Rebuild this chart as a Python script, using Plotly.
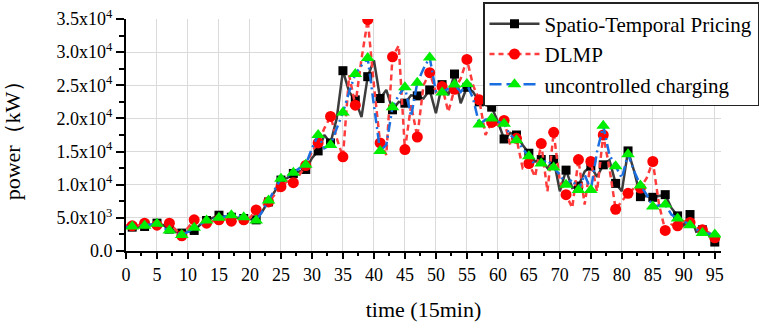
import plotly.graph_objects as go

# time index (15-min intervals)
time_idx = list(range(0, 96))

spatio_temporal = [
    3600, 3600, 3700, 3700, 3900, 4200, 3900, 3300, 2900, 2700,
    2900, 3100, 4000, 4600, 5000, 5400, 5200, 5100, 5000, 4900,
    4800, 4700, 6000, 7400, 9000, 10700, 11000, 11700, 12000, 12300,
    14000, 15100, 17500, 16300, 20000, 27200, 24000, 22800, 20200, 26300,
    28800, 23000, 24300, 21300, 22500, 22300, 23500, 23400, 23000, 24300,
    20800, 25100, 23500, 26700, 22300, 24700, 24000, 22500, 22000, 21700,
    19500, 16900, 17800, 17500, 16000, 14750, 13500, 13800, 12500, 13800,
    9000, 12200, 9500, 9800, 12000, 12800, 11200, 13000, 13700, 10200,
    9000, 15100, 12000, 8200, 8300, 8100, 8300, 8500, 6500, 5300,
    3900, 5500, 2900, 3200, 2400, 1350,
]

dlmp = [
    3900, 3800, 3900, 4200, 3900, 3900, 4000, 4200, 3200, 2300,
    3500, 4700, 4400, 4200, 4500, 4700, 4800, 4500, 5200, 4700,
    5000, 6200, 6800, 7400, 8500, 9700, 10500, 10300, 11500, 12900,
    15000, 16300, 18500, 20300, 17000, 14200, 26500, 22000, 29000, 34900,
    25000, 16300, 14500, 29300, 31000, 15300, 22000, 17200, 25000, 26900,
    24000, 24800, 21000, 24400, 26000, 28900, 25000, 22800, 17500, 19400,
    19000, 19700, 16000, 17000, 12500, 13200, 11200, 16200, 9000, 17900,
    10500, 8500, 6500, 13800, 7000, 13500, 9000, 17500, 12500, 6300,
    7500, 8700, 9500, 9500, 11000, 13500, 7000, 3100, 4000, 3800,
    4500, 4300, 3500, 3200, 2800, 2000,
]

uncontrolled = [
    3600, 3700, 3700, 3800, 3900, 4100, 3500, 3100, 2700, 2400,
    2900, 3500, 4100, 4600, 4800, 5000, 5200, 5400, 5300, 5100,
    4900, 4600, 6000, 7600, 9200, 10900, 11300, 11800, 12500, 13000,
    15500, 17500, 15500, 16000, 18500, 20900, 24000, 26700, 28000, 29100,
    22000, 15100, 16000, 21700, 23500, 24700, 20300, 25400, 27500, 29200,
    24000, 23900, 24500, 25100, 24000, 25200, 23000, 19100, 19800, 20000,
    19500, 19200, 17500, 16700, 15500, 14300, 13000, 13200, 13700, 12600,
    11500, 10000, 10800, 9200, 11500, 9200, 15000, 18900, 14500, 12800,
    11000, 14600, 12000, 9900, 8500, 6700, 6800, 7000, 5500, 4900,
    4500, 3900, 3300, 2700, 2600, 2500,
]

x_ticks = list(range(0, 96, 5))
y_tickvals = [0, 5000, 10000, 15000, 20000, 25000, 30000, 35000]
y_ticktext = ["0.0", "5.0x10<sup>3</sup>", "1.0x10<sup>4</sup>", "1.5x10<sup>4</sup>",
              "2.0x10<sup>4</sup>", "2.5x10<sup>4</sup>", "3.0x10<sup>4</sup>", "3.5x10<sup>4</sup>"]

series = [
    ("Spatio-Temporal Pricing", spatio_temporal,
     dict(color="#3c3c3c", width=2.5, dash="solid"),
     dict(symbol="square", size=9, color="black"), "solid"),
    ("DLMP", dlmp,
     dict(color="#ff3b3b", width=2.5, dash="6px,4px"),
     dict(symbol="circle", size=11, color="#ff0000"), "5px,4px"),
    ("uncontrolled charging", uncontrolled,
     dict(color="#1a6fe0", width=2.5, dash="10px,4px,2px,4px"),
     dict(symbol="triangle-up", size=12, color="#00ee00"), "12px,5px"),
]

fig = go.Figure()
for name, vals, line, marker, _ in series:
    fig.add_trace(go.Scatter(x=time_idx, y=vals, mode="lines", line=line,
                             showlegend=False, hoverinfo="skip"))
    mx = [t for t in time_idx if t % 2 == 1]
    my = [v for t, v in zip(time_idx, vals) if t % 2 == 1]
    fig.add_trace(go.Scatter(x=mx, y=my, mode="markers",
                             marker=dict(marker, line=dict(width=0)),
                             showlegend=False))
for name, vals, line, marker, legdash in series:
    fig.add_trace(go.Scatter(x=[None], y=[None], mode="lines+markers", name=name,
                             line=dict(color=line["color"], width=2.5, dash=legdash),
                             marker=dict(marker, line=dict(width=0))))

FF = "Liberation Serif"
fig.update_layout(
    width=782, height=324,
    margin=dict(l=126, r=61, t=19, b=73, autoexpand=False),
    paper_bgcolor="white", plot_bgcolor="white",
    font=dict(family=FF, color="black"),
    showlegend=True,
    legend=dict(x=0.6, y=1.073, xanchor="left", yanchor="top",
                bgcolor="white", bordercolor="#222", borderwidth=1.5,
                font=dict(size=21, family=FF), itemwidth=50,
                tracegroupgap=0),
    xaxis=dict(range=[0, 96], tickmode="array", tickvals=x_ticks,
               showgrid=True, gridcolor="#dadada", gridwidth=1,
               showline=True, linecolor="black", linewidth=2,
               ticks="outside", ticklen=6, tickwidth=1.5, tickcolor="black",
               minor=dict(ticks="outside", ticklen=3, tickwidth=1.5, tickcolor="black",
                          tick0=0, dtick=2.5, showgrid=False),
               zeroline=False,
               tickfont=dict(size=18, family=FF),
               title=dict(text="time (15min)", font=dict(size=22, family=FF), standoff=18)),
    yaxis=dict(range=[0, 35000], tickmode="array", tickvals=y_tickvals, ticktext=y_ticktext,
               showgrid=True, gridcolor="#dadada", gridwidth=1,
               showline=True, linecolor="black", linewidth=2,
               ticks="outside", ticklen=8, tickwidth=1.5, tickcolor="black",
               ticklabeloverflow="allow",
               minor=dict(ticks="outside", ticklen=5, tickwidth=1.5, tickcolor="black",
                          tick0=0, dtick=2500, showgrid=False),
               zeroline=False,
               tickfont=dict(size=18, family=FF),
               title=dict(text="power（kW）", font=dict(size=22, family=FF), standoff=35)),
)

fig.write_html("out.html", config={"displayModeBar": False},
               post_script="document.body.style.margin='0';")
